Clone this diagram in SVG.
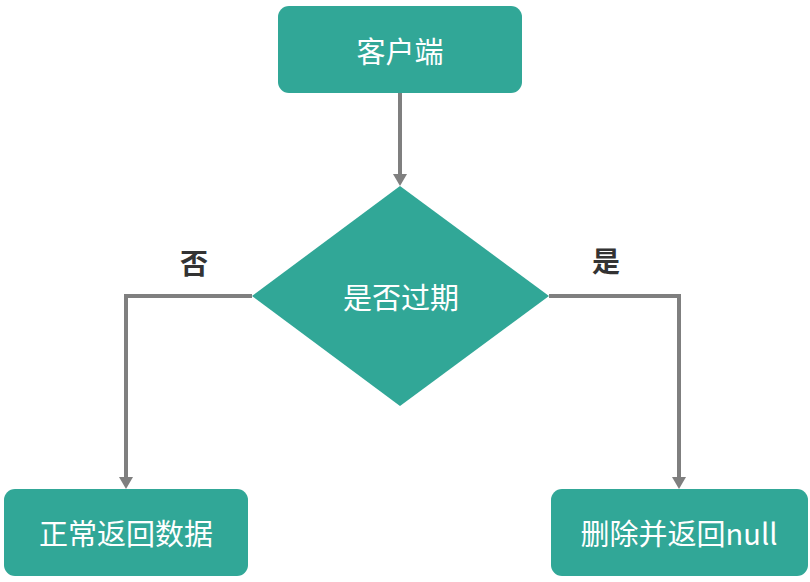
<svg xmlns="http://www.w3.org/2000/svg" width="810" height="582" viewBox="0 0 810 582">
<defs>
<style>
.node{fill:#31a797;}
.t{fill:#ffffff;font-family:"Noto Sans CJK SC","Noto Sans",sans-serif;font-size:29px;text-anchor:middle;dominant-baseline:central;}
.lbl{fill:#333333;font-family:"Noto Sans CJK SC","Noto Sans",sans-serif;font-size:28px;font-weight:bold;text-anchor:middle;dominant-baseline:central;}
.edge{fill:none;stroke:#7f7f7f;stroke-width:4;}
</style>
<marker id="arr" markerWidth="12" markerHeight="14" refX="6" refY="7" orient="auto" markerUnits="userSpaceOnUse" viewBox="0 0 12 14">
<path d="M0,0 L12,7 L0,14 Z" fill="#7f7f7f"/>
</marker>
</defs>
<rect width="810" height="582" fill="#ffffff"/>
<g id="connectors">
<path class="edge" d="M400,93 V180" marker-end="url(#arr)"/>
<path class="edge" d="M252,296 H126 V483" marker-end="url(#arr)"/>
<path class="edge" d="M549,296 H679 V483" marker-end="url(#arr)"/>
</g>
<g id="client">
<rect class="node" x="278" y="6" width="244" height="87" rx="11"/>
<text class="t" x="400" y="50">客户端</text>
</g>
<g id="decision">
<polygon class="node" points="400,186 549,296 400,406 252,296"/>
<text class="t" x="401" y="296">是否过期</text>
</g>
<g id="normal">
<rect class="node" x="4" y="489" width="244" height="87" rx="11"/>
<text class="t" x="126" y="532">正常返回数据</text>
</g>
<g id="delete">
<rect class="node" x="551" y="489" width="257" height="87" rx="11"/>
<text class="t" x="679" y="532">删除并返回null</text>
</g>
<g id="labels">
<text class="lbl" x="194" y="262">否</text>
<text class="lbl" x="606" y="260">是</text>
</g>
</svg>
